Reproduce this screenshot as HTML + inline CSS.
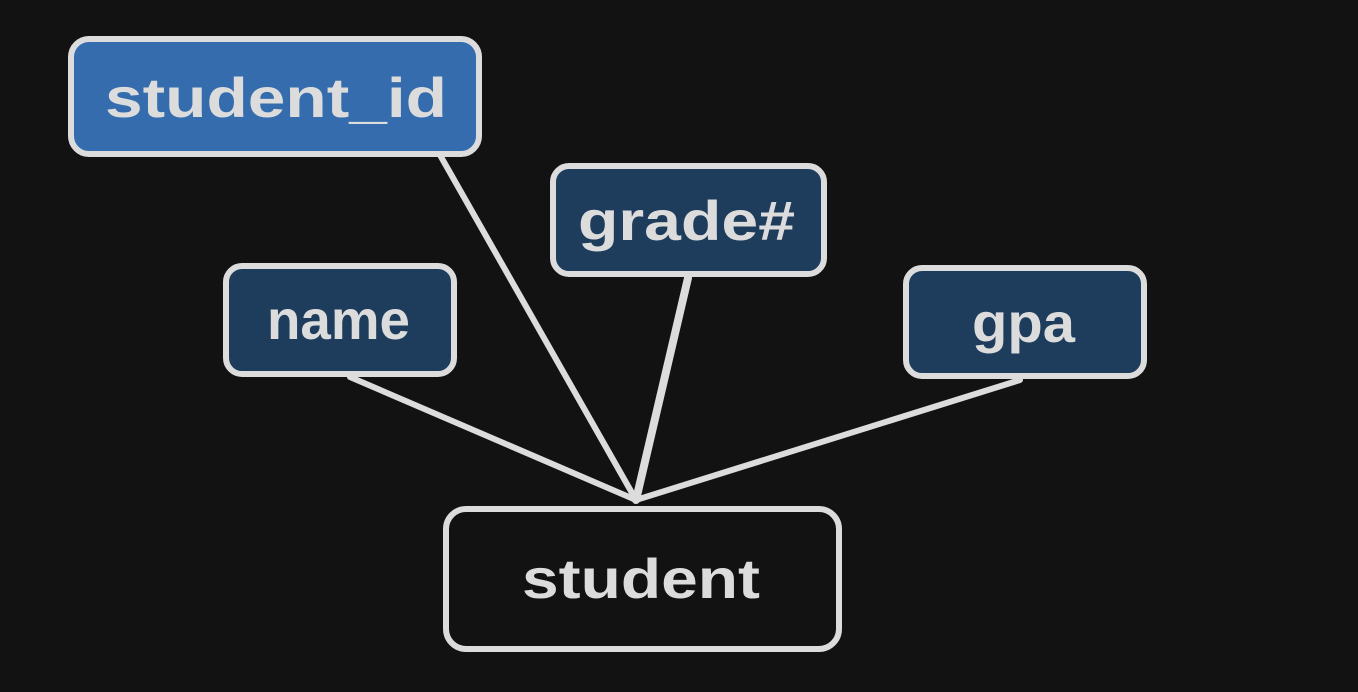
<!DOCTYPE html>
<html><head><meta charset="utf-8"><style>
html,body{margin:0;padding:0;background:#121212;width:1358px;height:692px;overflow:hidden}
text{font-family:"Liberation Sans",sans-serif;fill:#dcdcdc;font-size:56px;font-weight:bold;}
</style></head><body>
<svg width="1358" height="692" xmlns="http://www.w3.org/2000/svg">
<g stroke="#dcdcdc" stroke-width="6" stroke-linecap="round" fill="none">
<line x1="636" y1="500" x2="440" y2="155"/>
<line x1="636" y1="500" x2="688" y2="278" stroke-width="8"/>
<line x1="636" y1="500" x2="350" y2="377"/>
<line x1="636" y1="500" x2="1020" y2="380"/>
</g>
<g stroke="#dcdcdc" stroke-width="6">
<rect x="71" y="39" width="408" height="115" rx="18" fill="#346cad"/>
<rect x="553" y="166" width="271" height="108" rx="16" fill="#1e3d5c"/>
<rect x="226" y="266" width="228" height="108" rx="16" fill="#1e3d5c"/>
<rect x="906" y="268" width="238" height="108" rx="16" fill="#1e3d5c"/>
<rect x="446" y="509" width="393" height="140" rx="20" fill="none"/>
</g>
<text x="105" y="117" textLength="342" lengthAdjust="spacingAndGlyphs">student_id</text>
<text x="578" y="240" textLength="217" lengthAdjust="spacingAndGlyphs">grade#</text>
<text x="267" y="339" textLength="143" lengthAdjust="spacingAndGlyphs">name</text>
<text x="972" y="342" textLength="103" lengthAdjust="spacingAndGlyphs">gpa</text>
<text x="522" y="598" textLength="238" lengthAdjust="spacingAndGlyphs">student</text>
</svg>
</body></html>
